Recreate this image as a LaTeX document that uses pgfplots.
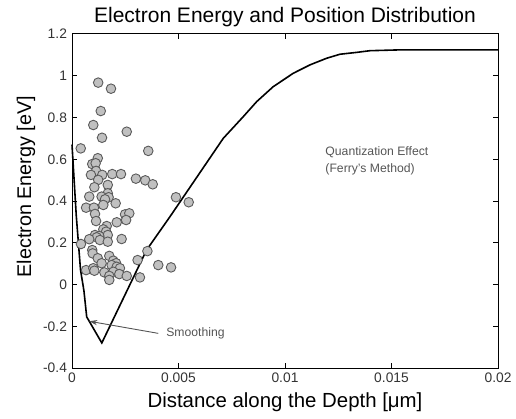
\documentclass[border=0pt]{standalone}
\usepackage{fontspec}
\setmainfont{Liberation Sans}
\usepackage{pgfplots}
\pgfplotsset{compat=1.18}
\usetikzlibrary{calc,arrows.meta}

\definecolor{dotfill}{RGB}{192,192,192}
\definecolor{dotedge}{RGB}{90,90,90}
\definecolor{notegray}{RGB}{85,85,85}

\begin{document}
\begin{tikzpicture}
\begin{axis}[
    scale only axis,
    width=213pt, height=167pt,
    xmin=0, xmax=0.02,
    ymin=-0.4, ymax=1.2,
    xtick={0,0.005,0.01,0.015,0.02},
    xticklabels={0,0.005,0.01,0.015,0.02},
    scaled x ticks=false,
    ytick={-0.4,-0.2,0,0.2,0.4,0.6,0.8,1,1.2},
    yticklabels={-0.4,-0.2,0,0.2,0.4,0.6,0.8,1,1.2},
    tick align=inside,
    major tick length=2.5pt,
    axis line style={line width=0.5pt},
    tick style={line width=0.5pt, black},
    ticklabel style={font=\fontsize{6.9}{7.5}\selectfont, text=black!80},
    xticklabel style={yshift=1pt},
    yticklabel style={xshift=1pt},
    title={Electron Energy and Position Distribution},
    title style={font=\fontsize{10.5}{12}\selectfont, anchor=center,
                 at={(axis description cs:0.5,1)}, yshift=2.5pt},
    xlabel={Distance along the Depth [μm]},
    xlabel style={font=\fontsize{10.2}{12}\selectfont, anchor=center,
                  at={(axis description cs:0.5,-0.102)}},
    ylabel={Electron Energy [eV]},
    ylabel style={font=\fontsize{9.9}{12}\selectfont, anchor=center,
                  at={(axis description cs:-0.108,0.543)}},
    clip=false,
]

% potential curve (with the smoothed kink near the surface)
\addplot[black, line width=0.8pt, mark=none] coordinates {
    (0.00000, 0.670)
    (0.00020, 0.330)
    (0.00040, 0.070)
    (0.00056,-0.030)
    (0.00069,-0.155)
    (0.00140,-0.280)
    (0.00350, 0.165)
    (0.00460, 0.325)
    (0.00580, 0.505)
    (0.00710, 0.700)
    (0.00804, 0.804)
    (0.00867, 0.876)
    (0.00945, 0.948)
    (0.01039, 1.012)
    (0.01117, 1.052)
    (0.01196, 1.084)
    (0.01258, 1.103)
    (0.01337, 1.112)
    (0.01399, 1.120)
    (0.01540, 1.124)
    (0.02000, 1.124)
};

% electron positions / energies
\addplot[only marks, mark=*, mark size=2.4pt,
         mark options={fill=dotfill, draw=dotedge, line width=0.45pt}] coordinates {
    (0.00123,0.967) (0.00183,0.938) (0.00135,0.831) (0.00100,0.764)
    (0.00257,0.732) (0.00141,0.703) (0.00041,0.652) (0.00358,0.640)
    (0.00121,0.605) (0.00095,0.577) (0.00111,0.581) (0.00113,0.544)
    (0.00089,0.525) (0.00142,0.525) (0.00189,0.529) (0.00230,0.529)
    (0.00300,0.507) (0.00344,0.499) (0.00379,0.480) (0.00123,0.501)
    (0.00168,0.477) (0.00105,0.466) (0.00168,0.437) (0.00081,0.421)
    (0.00139,0.421) (0.00172,0.418) (0.00155,0.408) (0.00488,0.418)
    (0.00548,0.394) (0.00205,0.389) (0.00147,0.381) (0.00066,0.368)
    (0.00103,0.368) (0.00108,0.338) (0.00249,0.336) (0.00269,0.341)
    (0.00113,0.304) (0.00254,0.309) (0.00210,0.298) (0.00163,0.280)
    (0.00147,0.264) (0.00160,0.253) (0.00168,0.237) (0.00108,0.237)
    (0.00128,0.232) (0.00116,0.226) (0.00081,0.217) (0.00131,0.213)
    (0.00168,0.205) (0.00233,0.218) (0.00042,0.194) (0.00095,0.165)
    (0.00097,0.149) (0.00175,0.137) (0.00121,0.126) (0.00139,0.102)
    (0.00194,0.114) (0.00207,0.102) (0.00186,0.093) (0.00210,0.085)
    (0.00225,0.078) (0.00066,0.069) (0.00100,0.078) (0.00105,0.066)
    (0.00152,0.058) (0.00194,0.061) (0.00175,0.041) (0.00222,0.050)
    (0.00257,0.041) (0.00175,0.022) (0.00319,0.034) (0.00308,0.117)
    (0.00354,0.160) (0.00405,0.093) (0.00465,0.082)
};

% annotations
\node[anchor=west, align=left, text=notegray, inner sep=0pt,
      font=\fontsize{6.1}{8.6}\selectfont]
    at (axis cs:0.01188,0.592) {Quantization Effect\\(Ferry's Method)};
\draw[notegray, line width=0.45pt, -{Stealth[length=4pt,width=2.6pt]}]
    (axis cs:0.00405,-0.234) -- (axis cs:0.00081,-0.176);
\node[anchor=west, text=notegray, inner sep=0pt,
      font=\fontsize{6.1}{7}\selectfont]
    at (axis cs:0.00441,-0.232) {Smoothing};
\end{axis}
\pgfresetboundingbox
\path[use as bounding box] ($(current axis.south west)+(-36pt,-25pt)$)
    rectangle ($(current axis.north east)+(9pt,17pt)$);
\end{tikzpicture}
\end{document}
